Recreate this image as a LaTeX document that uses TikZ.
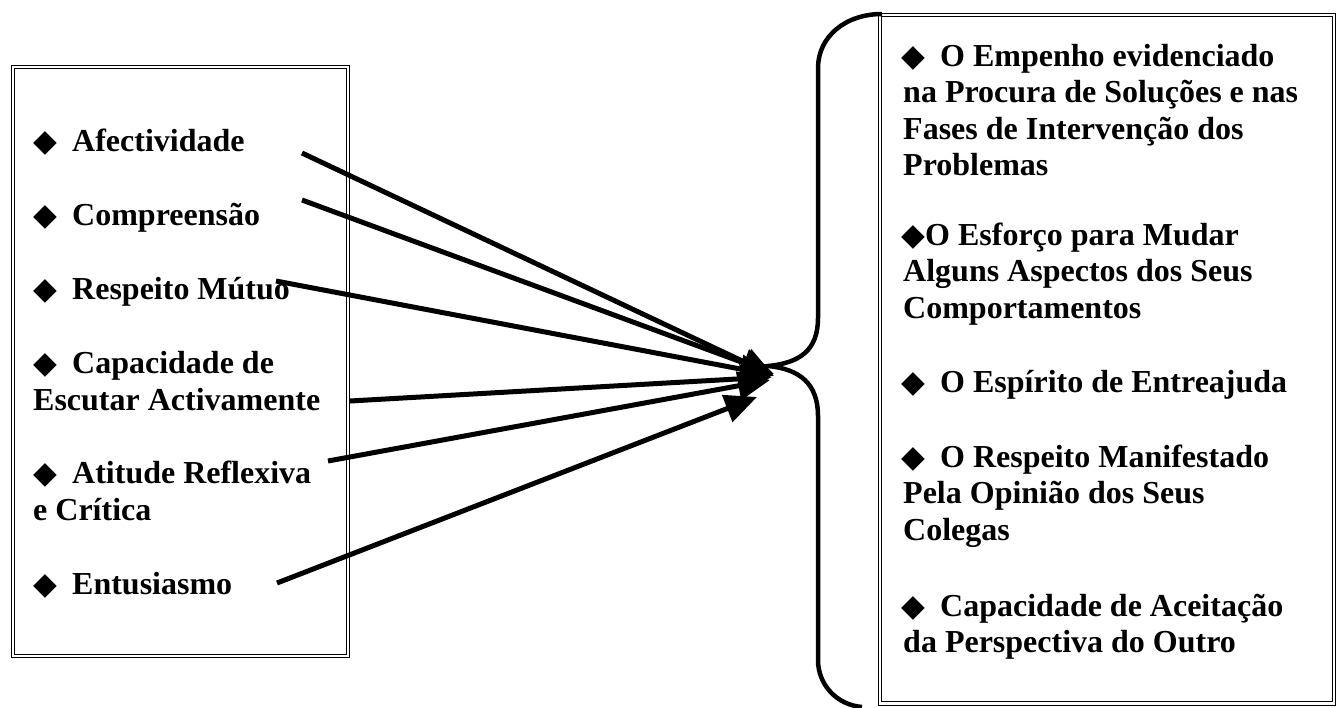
\documentclass[tikz,border=0pt]{standalone}
\usepackage{fontspec}
\setmainfont{Liberation Serif}
\newfontfamily\symfont{DejaVu Sans}
\usetikzlibrary{arrows.meta}
\newcommand{\dia}[1][37pt]{\makebox[#1][l]{\hspace*{-2pt}\fontsize{31}{31}\selectfont\symfont ◆}}
\begin{document}
\begin{tikzpicture}[x=1pt,y=-1pt,
  txt/.style={anchor=base west, inner sep=0pt, font=\fontsize{32}{36}\selectfont\bfseries},
  dbox/.style={draw=black, line width=1.1pt, double=white, double distance=2.4pt},
  arr/.style={line width=5pt, -{Triangle[length=32pt,width=28pt]}},
  bracestyle/.style={line width=4.5pt}
]
\useasboundingbox[fill=white] (0,0) rectangle (1341,707);

% boxes
\draw[dbox] (13,67) rectangle (348,656);
\draw[dbox] (880,15) rectangle (1334,703.5);

% left items
\node[txt] (l1)  at (35,151) {\dia Afectividade};
\node[txt] (l2)  at (35,225) {\dia Compreensão};
\node[txt] (l3)  at (35,299) {\dia Respeito Mútuo};
\node[txt] (l4)  at (35,373) {\dia Capacidade de};
\node[txt] (l4b) at (33,410) {Escutar Activamente};
\node[txt] (l5)  at (35,483) {\dia Atitude Reflexiva};
\node[txt] (l5b) at (33,520) {e Crítica};
\node[txt] (l6)  at (35,594) {\dia Entusiasmo};

% right items
\node[txt] (r1)  at (903,66)    {\dia O Empenho evidenciado};
\node[txt] (r1b) at (903,102.5) {na Procura de Soluções e nas};
\node[txt] (r1c) at (903,139)   {Fases de Intervenção dos};
\node[txt] (r1d) at (903,175.5) {Problemas};
\node[txt] (r2)  at (903,245)   {\dia[22pt]O Esforço para Mudar};
\node[txt] (r2b) at (903,281.5) {Alguns Aspectos dos Seus};
\node[txt] (r2c) at (903,318)   {Comportamentos};
\node[txt] (r3)  at (903,392)   {\dia O Espírito de Entreajuda};
\node[txt] (r4)  at (903,467)   {\dia O Respeito Manifestado};
\node[txt] (r4b) at (903,503.5) {Pela Opinião dos Seus};
\node[txt] (r4c) at (903,540)   {Colegas};
\node[txt] (r5)  at (903,616)   {\dia Capacidade de Aceitação};
\node[txt] (r5b) at (903,652.5) {da Perspectiva do Outro};

% brace
\coordinate (btop) at (882,14);
\coordinate (btip) at (768,366);
\coordinate (bbot) at (862,707);
\draw[bracestyle] (btop) .. controls (845,14) and (818,37) .. (818,68)
  -- (818,318) .. controls (818,350) and (800,363) .. (btip)
  .. controls (800,369) and (818,384) .. (818,416)
  -- (818,660) .. controls (818,685) and (837,705) .. (bbot);

% arrow start and tip coordinates
\coordinate (s1) at (302,153);
\coordinate (s2) at (302,200);
\coordinate (s3) at (276,281);
\coordinate (s4) at (350,401);
\coordinate (s5) at (328,461);
\coordinate (s6) at (277,583);
\coordinate (t1) at (774,376);
\coordinate (t2) at (774,374);
\coordinate (t3) at (772,375);
\coordinate (t4) at (772,377);
\coordinate (t5) at (770,380);
\coordinate (t6) at (757,397);

\draw[arr] (s1) -- (t1);
\draw[arr] (s2) -- (t2);
\draw[arr] (s3) -- (t3);
\draw[arr] (s4) -- (t4);
\draw[arr] (s5) -- (t5);
\draw[arr] (s6) -- (t6);
\end{tikzpicture}
\end{document}
